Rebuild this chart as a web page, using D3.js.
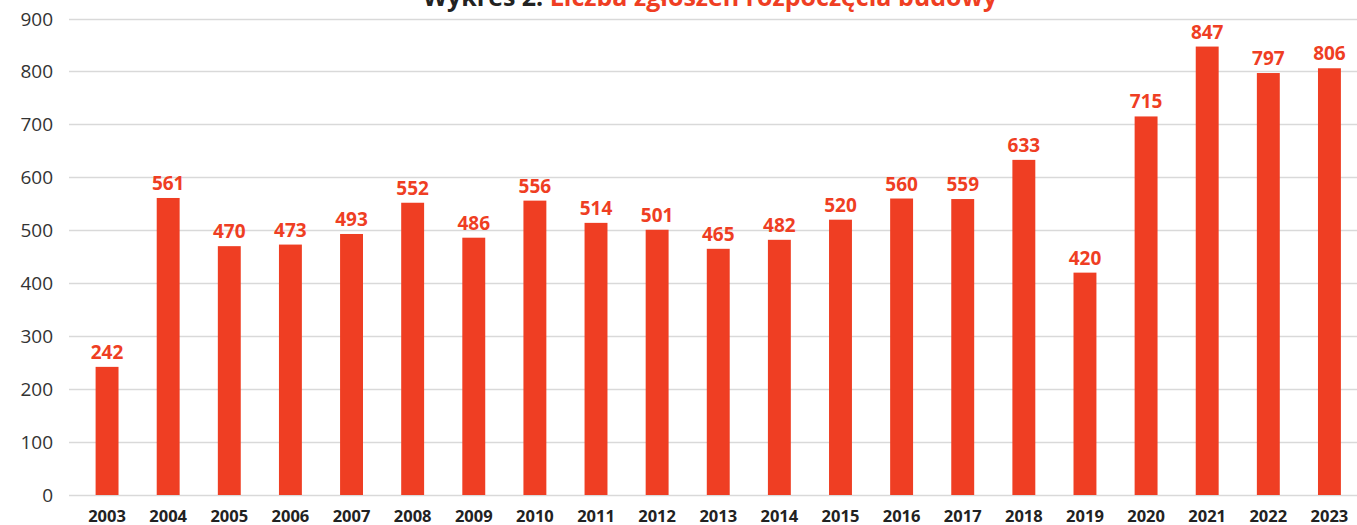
<!DOCTYPE html>
<html>
<head>
<meta charset="utf-8">
<script src="https://cdn.jsdelivr.net/npm/d3@7"></script>
<style>
  body { margin: 0; background: #fff; }
  svg { display: block; font-family: "Open Sans", sans-serif; }
</style>
</head>
<body>
<script>
var years = ["2003","2004","2005","2006","2007","2008","2009","2010","2011","2012","2013",
             "2014","2015","2016","2017","2018","2019","2020","2021","2022","2023"];
var counts = [242, 561, 470, 473, 493, 552, 486, 556, 514, 501, 465,
              482, 520, 560, 559, 633, 420, 715, 847, 797, 806];
var yTicks = [0, 100, 200, 300, 400, 500, 600, 700, 800, 900];
var titleDark = "Wykres 2. ";
var titleRed = "Liczba zgłoszeń rozpoczęcia budowy";

var W = 1357, H = 525;
var red = "#ef3e23";

var svg = d3.select("body").append("svg")
    .attr("width", W)
    .attr("height", H);

var x = d3.scaleBand()
    .domain(years)
    .range([76.5, 1360])
    .paddingInner(0.625)
    .paddingOuter(0.3125);

var y = d3.scaleLinear()
    .domain([0, 900])
    .range([495, 18.5]);

// grid
svg.append("g")
  .selectAll("line")
  .data(yTicks)
  .join("line")
    .attr("x1", 69)
    .attr("x2", W)
    .attr("y1", d => Math.round(y(d)) + 0.5)
    .attr("y2", d => Math.round(y(d)) + 0.5)
    .attr("stroke", "#d9d9d9")
    .attr("stroke-width", 1.5);

// y axis labels
svg.append("g")
  .selectAll("text")
  .data(yTicks)
  .join("text")
    .attr("x", 53)
    .attr("y", d => y(d) + 7)
    .attr("text-anchor", "end")
    .attr("font-size", 19)
    .attr("fill", "#333")
    .text(d => d);

// bars
svg.append("g")
  .selectAll("rect")
  .data(counts)
  .join("rect")
    .attr("x", (d, i) => x(years[i]))
    .attr("width", x.bandwidth())
    .attr("y", d => y(d))
    .attr("height", d => y(0) - y(d))
    .attr("fill", red);

// value labels
svg.append("g")
  .selectAll("text")
  .data(counts)
  .join("text")
    .attr("x", (d, i) => x(years[i]) + x.bandwidth() / 2)
    .attr("y", d => y(d) - 8)
    .attr("text-anchor", "middle")
    .attr("font-size", 19)
    .attr("font-weight", "bold")
    .attr("fill", red)
    .text(d => d);

// x labels
svg.append("g")
  .selectAll("text")
  .data(years)
  .join("text")
    .attr("x", d => x(d) + x.bandwidth() / 2)
    .attr("y", 522)
    .attr("text-anchor", "middle")
    .attr("font-size", 16.5)
    .attr("font-weight", "bold")
    .attr("fill", "#222")
    .text(d => d);

// title (clipped at top, as in the source)
var title = svg.append("text")
    .attr("x", 710)
    .attr("y", 6)
    .attr("text-anchor", "middle")
    .attr("font-size", 25)
    .attr("font-weight", "bold");
title.append("tspan").attr("fill", "#222").text(titleDark);
title.append("tspan").attr("fill", red).text(titleRed);
</script>
</body>
</html>
